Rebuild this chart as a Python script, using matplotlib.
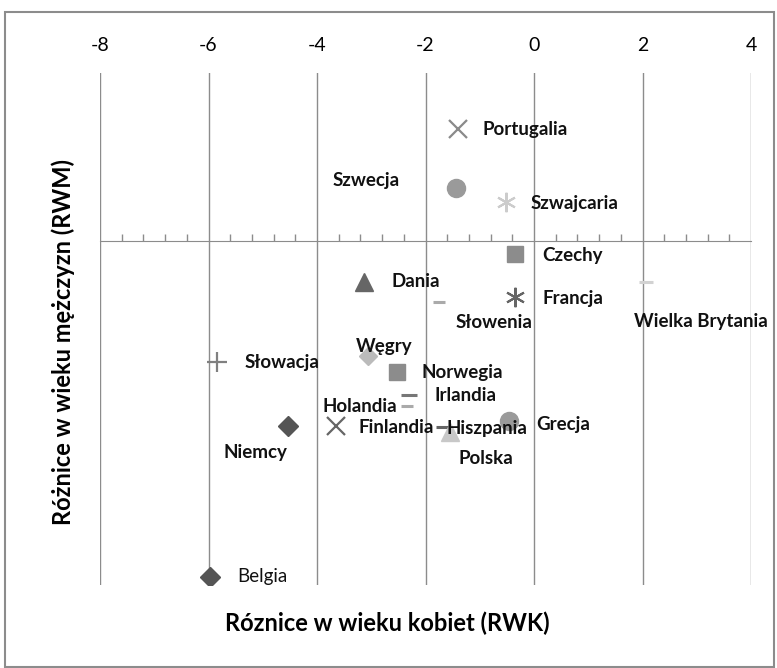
import matplotlib
matplotlib.use('Agg')
import matplotlib.pyplot as plt
from matplotlib.patches import Rectangle
from matplotlib.ticker import MultipleLocator

plt.rcParams['font.family'] = ['Lato', 'DejaVu Sans']
plt.rcParams['axes.unicode_minus'] = False

# dane
kraje = ['Portugalia', 'Szwecja', 'Szwajcaria', 'Czechy', 'Dania', 'Słowenia',
         'Francja', 'Wielka Brytania', 'Węgry', 'Słowacja', 'Norwegia', 'Irlandia',
         'Holandia', 'Niemcy', 'Finlandia', 'Hiszpania', 'Polska', 'Grecja', 'Belgia']
rwk = [-1.40, -1.44, -0.52, -0.35, -3.13, -1.75, -0.35, 2.06, -3.06, -5.84,
       -2.53, -2.30, -2.34, -4.53, -3.65, -1.66, -1.55, -0.46, -5.97]
rwm = [1.33, 0.63, 0.46, -0.16, -0.49, -0.73, -0.67, -0.49, -1.37, -1.44,
       -1.56, -1.84, -1.97, -2.21, -2.21, -2.22, -2.28, -2.15, -4.00]

# styl punktow: marker, kolor, rozmiar
styl = {
    'Portugalia': ('x', '#8a8a8a', 13),
    'Szwecja': ('o', '#9a9a9a', 13),
    'Szwajcaria': ('*', '#cccccc', 0),
    'Czechy': ('s', '#8c8c8c', 12),
    'Dania': ('^', '#666666', 13),
    'Słowenia': ('_', '#aaaaaa', 9),
    'Francja': ('*', '#666666', 0),
    'Wielka Brytania': ('_', '#d2d2d2', 10),
    'Węgry': ('D', '#bbbbbb', 9),
    'Słowacja': ('+', '#808080', 14),
    'Norwegia': ('s', '#8c8c8c', 12),
    'Irlandia': ('_', '#777777', 12),
    'Holandia': ('_', '#aaaaaa', 8),
    'Niemcy': ('D', '#555555', 10),
    'Finlandia': ('x', '#666666', 13),
    'Hiszpania': ('_', '#666666', 12),
    'Polska': ('^', '#c8c8c8', 13),
    'Grecja': ('o', '#9a9a9a', 13),
    'Belgia': ('D', '#555555', 10),
}

# polozenie etykiet (przesuniecie w pikselach, wyrownanie)
etykiety = {
    'Portugalia': (24, 0, 'left'),
    'Szwecja': (-90, 7, 'center'),
    'Szwajcaria': (25, -1, 'left'),
    'Czechy': (27, -1, 'left'),
    'Dania': (27, 0, 'left'),
    'Słowenia': (55, -20, 'center'),
    'Francja': (27, -1, 'left'),
    'Wielka Brytania': (55, -40, 'center'),
    'Węgry': (16, 9, 'center'),
    'Słowacja': (27, -1, 'left'),
    'Norwegia': (25, -1, 'left'),
    'Irlandia': (25, 0, 'left'),
    'Holandia': (-10, 0, 'right'),
    'Niemcy': (-33, -26, 'center'),
    'Finlandia': (23, -1, 'left'),
    'Hiszpania': (3, -1, 'left'),
    'Polska': (36, -26, 'center'),
    'Grecja': (27, -3, 'left'),
    'Belgia': (27, 0, 'left'),
}

fig = plt.figure(figsize=(7.77, 6.68), dpi=100)
fig.patches.append(Rectangle((5 / 777, 1 / 668), 769 / 777, 655 / 668, transform=fig.transFigure,
                             fill=False, edgecolor='#8c8c8c', linewidth=1.5))
ax = fig.add_axes([100 / 777, 1 - 585 / 668, 651 / 777, 512 / 668])
ax.set_xlim(-8, 4)
ax.set_ylim(-4.1, 2)

for k, x, y in zip(kraje, rwk, rwm):
    m, c, s = styl[k]
    if m == '*':
        ax.plot(x, y, marker=(6, 2, 0), color=c, markersize=14, markeredgewidth=1.5, linestyle='none', zorder=3)
    elif m in ('x', '+', '_'):
        ax.plot(x, y, marker=m, color=c, markersize=s, markeredgewidth=2.2 if m == '_' else 1.6,
                linestyle='none', zorder=3)
    else:
        ax.plot(x, y, marker=m, color=c, markersize=s, markeredgecolor=c, linestyle='none', zorder=3)
    dx, dy, ha = etykiety[k]
    if k == 'Belgia':
        fw, fs = 'normal', 13.5
    else:
        fw, fs = 'bold', 13.5
    ax.annotate(k, (x, y), xytext=(dx, dy), textcoords='offset pixels', ha=ha, va='center',
                fontsize=fs, fontweight=fw, color='#111111', zorder=4)

for s in ['left', 'right', 'top']:
    ax.spines[s].set_visible(False)
ax.spines['bottom'].set_position(('data', 0))
ax.spines['bottom'].set_color('#8c8c8c')
ax.xaxis.set_major_locator(MultipleLocator(2))
ax.xaxis.set_minor_locator(MultipleLocator(0.4))
ax.tick_params(axis='x', which='both', bottom=True, top=False, labelbottom=False, labeltop=True,
               direction='in', color='#8c8c8c')
ax.tick_params(axis='x', which='major', length=0, pad=14, labelsize=14)
ax.tick_params(axis='x', which='minor', length=5, width=1)
ax.set_yticks([])
ax.grid(axis='x', which='major', color='#8c8c8c', linewidth=1)
ax.set_axisbelow(True)

fig.text(387 / 777, 1 - 623 / 668, 'Róznice w wieku kobiet (RWK)', ha='center', va='center',
         fontsize=17, fontweight='bold')
fig.text(63 / 777, 1 - 342 / 668, 'Różnice w wieku mężczyzn (RWM)', ha='center', va='center',
         rotation=90, fontsize=17, fontweight='bold')

plt.savefig('out.png', dpi=100)
